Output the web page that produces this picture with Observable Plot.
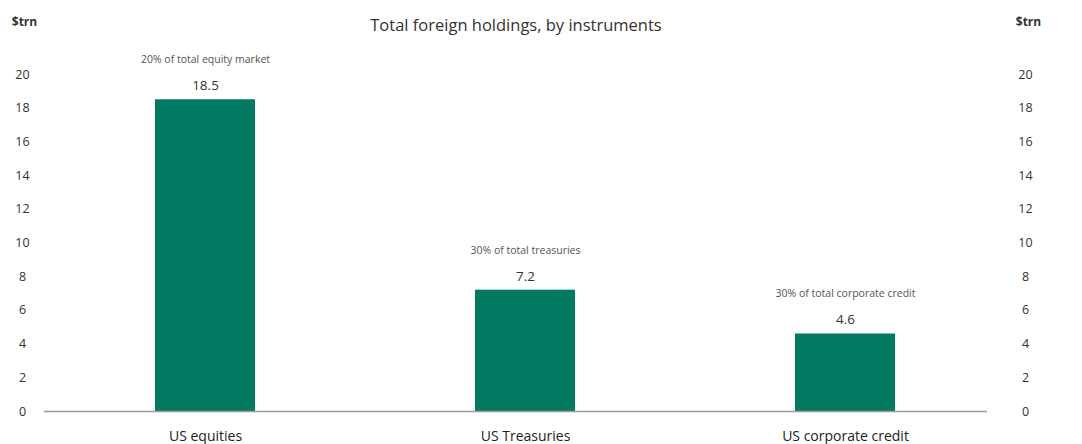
<!DOCTYPE html>
<html>
<head>
<meta charset="utf-8">
<script src="https://cdn.jsdelivr.net/npm/d3@7"></script>
<script src="https://cdn.jsdelivr.net/npm/@observablehq/plot@0.6"></script>
<style>
  html, body { margin: 0; padding: 0; background: #fff; }
  #chart svg { display: block; }
</style>
</head>
<body>
<div id="chart"></div>
<script>
const categories = ["US equities", "US Treasuries", "US corporate credit"];
const values = [18.5, 7.2, 4.6];
const notes = ["20% of total equity market", "30% of total treasuries", "30% of total corporate credit"];
const yTicks = [0, 2, 4, 6, 8, 10, 12, 14, 16, 18, 20];
const title = "Total foreign holdings, by instruments";
const unit = "$trn";

const data = categories.map((c, i) => ({category: c, value: values[i], note: notes[i]}));
const font = "'Open Sans', 'DejaVu Sans', sans-serif";

const chart = Plot.plot({
  width: 1082,
  height: 444,
  marginLeft: 44,
  marginRight: 95,
  marginTop: 74,
  marginBottom: 33,
  style: {fontFamily: font, background: "#fff", overflow: "visible"},
  x: {domain: categories, range: [45, 1005], paddingInner: 0.6875, paddingOuter: 0.34375, axis: null},
  y: {domain: [0, 20], axis: null},
  marks: [
    Plot.barY(data, {x: "category", y: "value", fill: "#037a62"}),
    Plot.ruleY([0], {stroke: "#9a9a9a", strokeWidth: 1.5}),
    // left tick labels
    Plot.text(yTicks, {y: d => d, frameAnchor: "left", dx: -22, textAnchor: "middle", fontSize: 12.5, fill: "#333"}),
    // right tick labels
    Plot.text(yTicks, {y: d => d, frameAnchor: "right", dx: 38, textAnchor: "middle", fontSize: 12.5, fill: "#333"}),
    // category labels
    Plot.text(data, {x: "category", text: "category", frameAnchor: "bottom", lineAnchor: "middle", dy: 25, fontSize: 14, fill: "#222"}),
    // value labels
    Plot.text(data, {x: "category", y: "value", text: d => d.value.toFixed(1), dy: -14, fontSize: 13.5, fill: "#333"}),
    // notes
    Plot.text(data, {x: "category", y: "value", text: "note", dy: -40, fontSize: 10.5, fill: "#555"}),
    // title & units
    Plot.text([title], {frameAnchor: "top", lineAnchor: "middle", dy: -49, fontSize: 16.5, fill: "#333"}),
    Plot.text([unit], {frameAnchor: "top-left", lineAnchor: "middle", dx: -20, dy: -52, textAnchor: "middle", fontSize: 12, fontWeight: "bold", fill: "#333"}),
    Plot.text([unit], {frameAnchor: "top-right", lineAnchor: "middle", dx: 41, dy: -52, textAnchor: "middle", fontSize: 12, fontWeight: "bold", fill: "#333"})
  ]
});
document.getElementById("chart").appendChild(chart);
</script>
</body>
</html>
